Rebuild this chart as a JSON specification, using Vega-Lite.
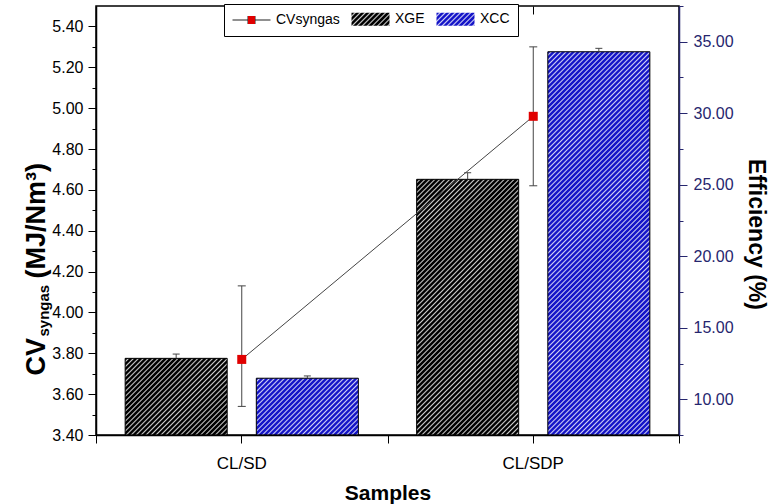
{
"$schema": "https://vega.github.io/schema/vega-lite/v6.json",
"width": 583, "height": 429,
"autosize": {"type": "none"},
"padding": {"left": 96, "top": 6, "right": 90, "bottom": 69},
"background": "white",
"config": {"font": "Liberation Sans", "view": {"stroke": "black", "strokeWidth": 1.5}, "axis": {"grid": false}},
"params": [
{"name": "hatch", "value": [{"offset":0,"color":"#fff0"},
{"offset":0.004,"color":"#fff0"},{"offset":0.007,"color":"#fffc"},{"offset":0.01,"color":"#fff0"},
{"offset":0.014,"color":"#fff0"},{"offset":0.017,"color":"#fffc"},{"offset":0.02,"color":"#fff0"},
{"offset":0.024,"color":"#fff0"},{"offset":0.027,"color":"#fffc"},{"offset":0.03,"color":"#fff0"},
{"offset":0.034,"color":"#fff0"},{"offset":0.037,"color":"#fffc"},{"offset":0.04,"color":"#fff0"},
{"offset":0.044,"color":"#fff0"},{"offset":0.047,"color":"#fffc"},{"offset":0.05,"color":"#fff0"},
{"offset":0.054,"color":"#fff0"},{"offset":0.057,"color":"#fffc"},{"offset":0.06,"color":"#fff0"},
{"offset":0.064,"color":"#fff0"},{"offset":0.067,"color":"#fffc"},{"offset":0.07,"color":"#fff0"},
{"offset":0.074,"color":"#fff0"},{"offset":0.077,"color":"#fffc"},{"offset":0.08,"color":"#fff0"},
{"offset":0.084,"color":"#fff0"},{"offset":0.087,"color":"#fffc"},{"offset":0.09,"color":"#fff0"},
{"offset":0.094,"color":"#fff0"},{"offset":0.097,"color":"#fffc"},{"offset":0.1,"color":"#fff0"},
{"offset":0.104,"color":"#fff0"},{"offset":0.107,"color":"#fffc"},{"offset":0.11,"color":"#fff0"},
{"offset":0.114,"color":"#fff0"},{"offset":0.117,"color":"#fffc"},{"offset":0.12,"color":"#fff0"},
{"offset":0.124,"color":"#fff0"},{"offset":0.127,"color":"#fffc"},{"offset":0.13,"color":"#fff0"},
{"offset":0.134,"color":"#fff0"},{"offset":0.137,"color":"#fffc"},{"offset":0.14,"color":"#fff0"},
{"offset":0.144,"color":"#fff0"},{"offset":0.147,"color":"#fffc"},{"offset":0.15,"color":"#fff0"},
{"offset":0.154,"color":"#fff0"},{"offset":0.157,"color":"#fffc"},{"offset":0.16,"color":"#fff0"},
{"offset":0.164,"color":"#fff0"},{"offset":0.167,"color":"#fffc"},{"offset":0.17,"color":"#fff0"},
{"offset":0.174,"color":"#fff0"},{"offset":0.177,"color":"#fffc"},{"offset":0.18,"color":"#fff0"},
{"offset":0.184,"color":"#fff0"},{"offset":0.187,"color":"#fffc"},{"offset":0.19,"color":"#fff0"},
{"offset":0.194,"color":"#fff0"},{"offset":0.197,"color":"#fffc"},{"offset":0.2,"color":"#fff0"},
{"offset":0.204,"color":"#fff0"},{"offset":0.207,"color":"#fffc"},{"offset":0.21,"color":"#fff0"},
{"offset":0.214,"color":"#fff0"},{"offset":0.217,"color":"#fffc"},{"offset":0.22,"color":"#fff0"},
{"offset":0.224,"color":"#fff0"},{"offset":0.227,"color":"#fffc"},{"offset":0.23,"color":"#fff0"},
{"offset":0.234,"color":"#fff0"},{"offset":0.237,"color":"#fffc"},{"offset":0.24,"color":"#fff0"},
{"offset":0.244,"color":"#fff0"},{"offset":0.247,"color":"#fffc"},{"offset":0.25,"color":"#fff0"},
{"offset":0.254,"color":"#fff0"},{"offset":0.257,"color":"#fffc"},{"offset":0.26,"color":"#fff0"},
{"offset":0.264,"color":"#fff0"},{"offset":0.267,"color":"#fffc"},{"offset":0.27,"color":"#fff0"},
{"offset":0.274,"color":"#fff0"},{"offset":0.277,"color":"#fffc"},{"offset":0.28,"color":"#fff0"},
{"offset":0.284,"color":"#fff0"},{"offset":0.287,"color":"#fffc"},{"offset":0.29,"color":"#fff0"},
{"offset":0.294,"color":"#fff0"},{"offset":0.297,"color":"#fffc"},{"offset":0.3,"color":"#fff0"},
{"offset":0.304,"color":"#fff0"},{"offset":0.307,"color":"#fffc"},{"offset":0.31,"color":"#fff0"},
{"offset":0.314,"color":"#fff0"},{"offset":0.317,"color":"#fffc"},{"offset":0.32,"color":"#fff0"},
{"offset":0.324,"color":"#fff0"},{"offset":0.327,"color":"#fffc"},{"offset":0.33,"color":"#fff0"},
{"offset":0.334,"color":"#fff0"},{"offset":0.337,"color":"#fffc"},{"offset":0.34,"color":"#fff0"},
{"offset":0.344,"color":"#fff0"},{"offset":0.347,"color":"#fffc"},{"offset":0.35,"color":"#fff0"},
{"offset":0.354,"color":"#fff0"},{"offset":0.357,"color":"#fffc"},{"offset":0.36,"color":"#fff0"},
{"offset":0.364,"color":"#fff0"},{"offset":0.367,"color":"#fffc"},{"offset":0.37,"color":"#fff0"},
{"offset":0.374,"color":"#fff0"},{"offset":0.377,"color":"#fffc"},{"offset":0.38,"color":"#fff0"},
{"offset":0.384,"color":"#fff0"},{"offset":0.387,"color":"#fffc"},{"offset":0.39,"color":"#fff0"},
{"offset":0.394,"color":"#fff0"},{"offset":0.397,"color":"#fffc"},{"offset":0.4,"color":"#fff0"},
{"offset":0.404,"color":"#fff0"},{"offset":0.407,"color":"#fffc"},{"offset":0.41,"color":"#fff0"},
{"offset":0.414,"color":"#fff0"},{"offset":0.417,"color":"#fffc"},{"offset":0.42,"color":"#fff0"},
{"offset":0.424,"color":"#fff0"},{"offset":0.427,"color":"#fffc"},{"offset":0.43,"color":"#fff0"},
{"offset":0.434,"color":"#fff0"},{"offset":0.437,"color":"#fffc"},{"offset":0.44,"color":"#fff0"},
{"offset":0.444,"color":"#fff0"},{"offset":0.447,"color":"#fffc"},{"offset":0.45,"color":"#fff0"},
{"offset":0.454,"color":"#fff0"},{"offset":0.457,"color":"#fffc"},{"offset":0.46,"color":"#fff0"},
{"offset":0.464,"color":"#fff0"},{"offset":0.467,"color":"#fffc"},{"offset":0.47,"color":"#fff0"},
{"offset":0.474,"color":"#fff0"},{"offset":0.477,"color":"#fffc"},{"offset":0.48,"color":"#fff0"},
{"offset":0.484,"color":"#fff0"},{"offset":0.487,"color":"#fffc"},{"offset":0.49,"color":"#fff0"},
{"offset":0.494,"color":"#fff0"},{"offset":0.497,"color":"#fffc"},{"offset":0.5,"color":"#fff0"},
{"offset":0.504,"color":"#fff0"},{"offset":0.507,"color":"#fffc"},{"offset":0.51,"color":"#fff0"},
{"offset":0.514,"color":"#fff0"},{"offset":0.517,"color":"#fffc"},{"offset":0.52,"color":"#fff0"},
{"offset":0.524,"color":"#fff0"},{"offset":0.527,"color":"#fffc"},{"offset":0.53,"color":"#fff0"},
{"offset":0.534,"color":"#fff0"},{"offset":0.537,"color":"#fffc"},{"offset":0.54,"color":"#fff0"},
{"offset":0.544,"color":"#fff0"},{"offset":0.547,"color":"#fffc"},{"offset":0.55,"color":"#fff0"},
{"offset":0.554,"color":"#fff0"},{"offset":0.557,"color":"#fffc"},{"offset":0.56,"color":"#fff0"},
{"offset":0.564,"color":"#fff0"},{"offset":0.567,"color":"#fffc"},{"offset":0.57,"color":"#fff0"},
{"offset":0.574,"color":"#fff0"},{"offset":0.577,"color":"#fffc"},{"offset":0.58,"color":"#fff0"},
{"offset":0.584,"color":"#fff0"},{"offset":0.587,"color":"#fffc"},{"offset":0.59,"color":"#fff0"},
{"offset":0.594,"color":"#fff0"},{"offset":0.597,"color":"#fffc"},{"offset":0.6,"color":"#fff0"},
{"offset":0.604,"color":"#fff0"},{"offset":0.607,"color":"#fffc"},{"offset":0.61,"color":"#fff0"},
{"offset":0.614,"color":"#fff0"},{"offset":0.617,"color":"#fffc"},{"offset":0.62,"color":"#fff0"},
{"offset":0.624,"color":"#fff0"},{"offset":0.627,"color":"#fffc"},{"offset":0.63,"color":"#fff0"},
{"offset":0.634,"color":"#fff0"},{"offset":0.637,"color":"#fffc"},{"offset":0.64,"color":"#fff0"},
{"offset":0.644,"color":"#fff0"},{"offset":0.647,"color":"#fffc"},{"offset":0.65,"color":"#fff0"},
{"offset":0.654,"color":"#fff0"},{"offset":0.657,"color":"#fffc"},{"offset":0.66,"color":"#fff0"},
{"offset":0.664,"color":"#fff0"},{"offset":0.667,"color":"#fffc"},{"offset":0.67,"color":"#fff0"},
{"offset":0.674,"color":"#fff0"},{"offset":0.677,"color":"#fffc"},{"offset":0.68,"color":"#fff0"},
{"offset":0.684,"color":"#fff0"},{"offset":0.687,"color":"#fffc"},{"offset":0.69,"color":"#fff0"},
{"offset":0.694,"color":"#fff0"},{"offset":0.697,"color":"#fffc"},{"offset":0.7,"color":"#fff0"},
{"offset":0.704,"color":"#fff0"},{"offset":0.707,"color":"#fffc"},{"offset":0.71,"color":"#fff0"},
{"offset":0.714,"color":"#fff0"},{"offset":0.717,"color":"#fffc"},{"offset":0.72,"color":"#fff0"},
{"offset":0.724,"color":"#fff0"},{"offset":0.727,"color":"#fffc"},{"offset":0.73,"color":"#fff0"},
{"offset":0.734,"color":"#fff0"},{"offset":0.737,"color":"#fffc"},{"offset":0.74,"color":"#fff0"},
{"offset":0.744,"color":"#fff0"},{"offset":0.747,"color":"#fffc"},{"offset":0.75,"color":"#fff0"},
{"offset":0.754,"color":"#fff0"},{"offset":0.757,"color":"#fffc"},{"offset":0.76,"color":"#fff0"},
{"offset":0.764,"color":"#fff0"},{"offset":0.767,"color":"#fffc"},{"offset":0.77,"color":"#fff0"},
{"offset":0.774,"color":"#fff0"},{"offset":0.777,"color":"#fffc"},{"offset":0.78,"color":"#fff0"},
{"offset":0.784,"color":"#fff0"},{"offset":0.787,"color":"#fffc"},{"offset":0.79,"color":"#fff0"},
{"offset":0.794,"color":"#fff0"},{"offset":0.797,"color":"#fffc"},{"offset":0.8,"color":"#fff0"},
{"offset":0.804,"color":"#fff0"},{"offset":0.807,"color":"#fffc"},{"offset":0.81,"color":"#fff0"},
{"offset":0.814,"color":"#fff0"},{"offset":0.817,"color":"#fffc"},{"offset":0.82,"color":"#fff0"},
{"offset":0.824,"color":"#fff0"},{"offset":0.827,"color":"#fffc"},{"offset":0.83,"color":"#fff0"},
{"offset":0.834,"color":"#fff0"},{"offset":0.837,"color":"#fffc"},{"offset":0.84,"color":"#fff0"},
{"offset":0.844,"color":"#fff0"},{"offset":0.847,"color":"#fffc"},{"offset":0.85,"color":"#fff0"},
{"offset":0.854,"color":"#fff0"},{"offset":0.857,"color":"#fffc"},{"offset":0.86,"color":"#fff0"},
{"offset":0.864,"color":"#fff0"},{"offset":0.867,"color":"#fffc"},{"offset":0.87,"color":"#fff0"},
{"offset":0.874,"color":"#fff0"},{"offset":0.877,"color":"#fffc"},{"offset":0.88,"color":"#fff0"},
{"offset":0.884,"color":"#fff0"},{"offset":0.887,"color":"#fffc"},{"offset":0.89,"color":"#fff0"},
{"offset":0.894,"color":"#fff0"},{"offset":0.897,"color":"#fffc"},{"offset":0.9,"color":"#fff0"},
{"offset":0.904,"color":"#fff0"},{"offset":0.907,"color":"#fffc"},{"offset":0.91,"color":"#fff0"},
{"offset":0.914,"color":"#fff0"},{"offset":0.917,"color":"#fffc"},{"offset":0.92,"color":"#fff0"},
{"offset":0.924,"color":"#fff0"},{"offset":0.927,"color":"#fffc"},{"offset":0.93,"color":"#fff0"},
{"offset":0.934,"color":"#fff0"},{"offset":0.937,"color":"#fffc"},{"offset":0.94,"color":"#fff0"},
{"offset":0.944,"color":"#fff0"},{"offset":0.947,"color":"#fffc"},{"offset":0.95,"color":"#fff0"},
{"offset":0.954,"color":"#fff0"},{"offset":0.957,"color":"#fffc"},{"offset":0.96,"color":"#fff0"},
{"offset":0.964,"color":"#fff0"},{"offset":0.967,"color":"#fffc"},{"offset":0.97,"color":"#fff0"},
{"offset":0.974,"color":"#fff0"},{"offset":0.977,"color":"#fffc"},{"offset":0.98,"color":"#fff0"},
{"offset":0.984,"color":"#fff0"},{"offset":0.987,"color":"#fffc"},{"offset":0.99,"color":"#fff0"},
{"offset":0.994,"color":"#fff0"},{"offset":0.997,"color":"#fffc"},{"offset":1,"color":"#fff0"}]},
{"name": "hsK", "value": [{"offset":0,"color":"#000"},
{"offset":0.04,"color":"#000"},{"offset":0.07,"color":"#ccc"},{"offset":0.1,"color":"#000"},
{"offset":0.14,"color":"#000"},{"offset":0.17,"color":"#ccc"},{"offset":0.2,"color":"#000"},
{"offset":0.24,"color":"#000"},{"offset":0.27,"color":"#ccc"},{"offset":0.3,"color":"#000"},
{"offset":0.34,"color":"#000"},{"offset":0.37,"color":"#ccc"},{"offset":0.4,"color":"#000"},
{"offset":0.44,"color":"#000"},{"offset":0.47,"color":"#ccc"},{"offset":0.5,"color":"#000"},
{"offset":0.54,"color":"#000"},{"offset":0.57,"color":"#ccc"},{"offset":0.6,"color":"#000"},
{"offset":0.64,"color":"#000"},{"offset":0.67,"color":"#ccc"},{"offset":0.7,"color":"#000"},
{"offset":0.74,"color":"#000"},{"offset":0.77,"color":"#ccc"},{"offset":0.8,"color":"#000"},
{"offset":0.84,"color":"#000"},{"offset":0.87,"color":"#ccc"},{"offset":0.9,"color":"#000"},
{"offset":0.94,"color":"#000"},{"offset":0.97,"color":"#ccc"},{"offset":1,"color":"#000"}]},
{"name": "hsB", "value": [{"offset":0,"color":"#1414c8"},
{"offset":0.04,"color":"#1414c8"},{"offset":0.07,"color":"#d0d0f4"},{"offset":0.1,"color":"#1414c8"},
{"offset":0.14,"color":"#1414c8"},{"offset":0.17,"color":"#d0d0f4"},{"offset":0.2,"color":"#1414c8"},
{"offset":0.24,"color":"#1414c8"},{"offset":0.27,"color":"#d0d0f4"},{"offset":0.3,"color":"#1414c8"},
{"offset":0.34,"color":"#1414c8"},{"offset":0.37,"color":"#d0d0f4"},{"offset":0.4,"color":"#1414c8"},
{"offset":0.44,"color":"#1414c8"},{"offset":0.47,"color":"#d0d0f4"},{"offset":0.5,"color":"#1414c8"},
{"offset":0.54,"color":"#1414c8"},{"offset":0.57,"color":"#d0d0f4"},{"offset":0.6,"color":"#1414c8"},
{"offset":0.64,"color":"#1414c8"},{"offset":0.67,"color":"#d0d0f4"},{"offset":0.7,"color":"#1414c8"},
{"offset":0.74,"color":"#1414c8"},{"offset":0.77,"color":"#d0d0f4"},{"offset":0.8,"color":"#1414c8"},
{"offset":0.84,"color":"#1414c8"},{"offset":0.87,"color":"#d0d0f4"},{"offset":0.9,"color":"#1414c8"},
{"offset":0.94,"color":"#1414c8"},{"offset":0.97,"color":"#d0d0f4"},{"offset":1,"color":"#1414c8"}]}
],
"datasets": {
"bars": [
{"sample":"CL/SD","series":"XGE","eff":12.86,"hi":13.16},
{"sample":"CL/SD","series":"XCC","eff":11.47,"hi":11.63},
{"sample":"CL/SDP","series":"XGE","eff":25.38,"hi":25.84},
{"sample":"CL/SDP","series":"XCC","eff":34.3,"hi":34.54}
],
"cv": [
{"sample":"CL/SD","series":"CVsyngas","cv":3.77,"lo":3.54,"hi":4.13},
{"sample":"CL/SDP","series":"CVsyngas","cv":4.96,"lo":4.62,"hi":5.3}
]
},
"layer": [
{
"data": {"name": "bars"},
"encoding": {
"x": {"field": "sample", "type": "nominal", "scale": {"type": "band", "domain": ["CL/SD","CL/SDP"], "paddingInner": 0, "paddingOuter": 0}, "axis": null},
"xOffset": {"field": "series", "type": "nominal", "scale": {"domain": ["XGE","XCC"], "paddingInner": 0.2222, "paddingOuter": 0.2222}},
"y": {"field": "eff", "type": "quantitative", "stack": null, "scale": {"domain": [7.5, 37.5], "zero": false, "nice": false}, "axis": null}
},
"layer": [
{"transform": [{"filter": "datum.series === 'XGE'"}],
"mark": {"type": "bar", "opacity": 1, "color": "#000000"},
"encoding": {
"x": {"field": "sample", "type": "nominal", "scale": {"type": "band", "domain": ["CL/SD","CL/SDP"], "paddingInner": 0, "paddingOuter": 0},
"axis": {"orient": "bottom", "title": "Samples", "labelAngle": 0, "labelFontSize": 17, "labelColor": "black", "labelPadding": 12, "tickSize": 8, "tickColor": "black", "tickWidth": 1, "domainColor": "black", "domainWidth": 1.5, "titleFontSize": 21, "titleFontWeight": "bold", "titleColor": "black", "titleX": 291.5, "titleY": 64, "titleAlign": "center", "titleBaseline": "alphabetic", "zindex": 1}},
"y": {"field": "eff", "type": "quantitative", "stack": null, "scale": {"domain": [7.5, 37.5], "zero": false, "nice": false},
"axis": {"orient": "right", "values": [10,15,20,25,30,35], "format": ".2f", "labelFontSize": 16, "labelColor": "#26266e", "labelPadding": 6, "tickSize": 8, "tickColor": "#26266e", "tickWidth": 1, "domainColor": "#26266e", "domainWidth": 1.5, "title": "Efficiency (%)", "titleFontSize": 23, "titleFontWeight": "bold", "titleColor": "black", "titleAngle": 90, "titleX": 69, "titleY": 228, "titleAlign": "center", "titleBaseline": "alphabetic", "zindex": 1}}
}},
{"transform": [{"filter": "datum.series === 'XCC'"}],
"mark": {"type": "bar", "opacity": 1, "color": "#1414c8"}},
{"transform": [{"filter": "datum.sample === 'CL/SD' && datum.series === 'XGE'"}],
"mark": {"type": "bar", "opacity": 1, "stroke": "black", "strokeWidth": 1, "color": {"expr": "{gradient: 'linear', x1: 0, y1: 0, x2: 3.103, y2: 2.330, stops: hatch}"}}},
{"transform": [{"filter": "datum.sample === 'CL/SD' && datum.series === 'XCC'"}],
"mark": {"type": "bar", "opacity": 1, "stroke": "black", "strokeWidth": 1, "color": {"expr": "{gradient: 'linear', x1: 0, y1: 0, x2: 3.704, y2: 2.063, stops: hatch}"}}},
{"transform": [{"filter": "datum.sample === 'CL/SDP' && datum.series === 'XGE'"}],
"mark": {"type": "bar", "opacity": 1, "stroke": "black", "strokeWidth": 1, "color": {"expr": "{gradient: 'linear', x1: 0, y1: 0, x2: 0.6662, y2: 1.6701, stops: hatch}"}}},
{"transform": [{"filter": "datum.sample === 'CL/SDP' && datum.series === 'XCC'"}],
"mark": {"type": "bar", "opacity": 1, "stroke": "black", "strokeWidth": 1, "color": {"expr": "{gradient: 'linear', x1: 0, y1: 0, x2: 0.3211, y2: 1.2063, stops: hatch}"}}},
{"mark": {"type": "rule", "color": "#444", "strokeWidth": 1, "opacity": 1},
"encoding": {"y2": {"field": "hi"}}},
{"mark": {"type": "tick", "orient": "horizontal", "size": 7, "thickness": 1, "color": "#444", "opacity": 1},
"encoding": {
"y": {"field": "hi", "type": "quantitative", "scale": {"domain": [7.5, 37.5], "zero": false, "nice": false},
"axis": {"orient": "right", "values": [7.5,12.5,17.5,22.5,27.5,32.5,37.5], "labels": false, "domain": false, "title": null, "tickSize": 4, "tickColor": "#26266e", "tickWidth": 1}}
}}
],
"resolve": {"axis": {"x": "independent", "y": "independent"}}
},
{
"data": {"name": "cv"},
"encoding": {
"x": {"field": "sample", "type": "nominal", "scale": {"type": "band", "domain": ["CL/SD","CL/SDP"], "paddingInner": 0, "paddingOuter": 0}, "axis": null},
"y": {"field": "cv", "type": "quantitative", "scale": {"domain": [3.4, 5.5], "zero": false, "nice": false}, "axis": null}
},
"layer": [
{"mark": {"type": "line", "color": "#444", "strokeWidth": 1},
"encoding": {
"y": {"field": "cv", "type": "quantitative", "scale": {"domain": [3.4, 5.5], "zero": false, "nice": false},
"axis": {"orient": "left", "values": [3.4,3.6,3.8,4.0,4.2,4.4,4.6,4.8,5.0,5.2,5.4], "format": ".2f", "labelFontSize": 16, "labelColor": "black", "labelPadding": 5, "tickSize": 8, "tickColor": "black", "tickWidth": 1, "domainColor": "black", "domainWidth": 1.5, "title": "CV", "titleFontSize": 27, "titleFontWeight": "bold", "titleColor": "black", "titleAngle": -90, "titleX": -52, "titleY": 369, "titleAlign": "left", "titleBaseline": "alphabetic", "zindex": 1}}
}},
{"mark": {"type": "rule", "color": "#444", "strokeWidth": 1},
"encoding": {
"y": {"field": "lo", "type": "quantitative", "scale": {"domain": [3.4, 5.5], "zero": false, "nice": false},
"axis": {"orient": "left", "labels": false, "ticks": false, "domain": false, "title": "syngas", "titleFontSize": 15, "titleFontWeight": "bold", "titleColor": "black", "titleAngle": -90, "titleX": -48, "titleY": 330, "titleAlign": "left", "titleBaseline": "alphabetic"}},
"y2": {"field": "hi"}
}},
{"mark": {"type": "tick", "orient": "horizontal", "size": 8, "thickness": 1, "color": "#444", "opacity": 1},
"encoding": {
"x": {"field": "sample", "type": "nominal", "scale": {"type": "band", "domain": ["CL/SD","CL/SDP"], "paddingInner": 0, "paddingOuter": 0},
"axis": {"orient": "bottom", "tickBand": "extent", "labels": false, "domain": false, "title": null, "tickSize": 8, "tickColor": "black", "tickWidth": 1}},
"y": {"field": "lo", "type": "quantitative", "scale": {"domain": [3.4, 5.5], "zero": false, "nice": false},
"axis": {"orient": "left", "values": [3.5,3.7,3.9,4.1,4.3,4.5,4.7,4.9,5.1,5.3], "labels": false, "domain": false, "title": null, "tickSize": 4, "tickColor": "black", "tickWidth": 1}}
}},
{"mark": {"type": "tick", "orient": "horizontal", "size": 8, "thickness": 1, "color": "#444", "opacity": 1},
"encoding": {
"x": {"field": "sample", "type": "nominal", "scale": {"type": "band", "domain": ["CL/SD","CL/SDP"], "paddingInner": 0, "paddingOuter": 0},
"axis": {"orient": "top", "labels": false, "domain": false, "title": null, "tickSize": -8, "tickColor": "black", "tickWidth": 1}},
"y": {"field": "hi", "type": "quantitative", "scale": {"domain": [3.4, 5.5], "zero": false, "nice": false},
"axis": {"orient": "left", "labels": false, "ticks": false, "domain": false, "title": "(MJ/Nm³)", "titleFontSize": 27, "titleFontWeight": "bold", "titleColor": "black", "titleAngle": -90, "titleX": -52, "titleY": 272, "titleAlign": "left", "titleBaseline": "alphabetic"}}
}},
{"mark": {"type": "point", "shape": "square", "filled": true, "size": 81, "opacity": 1, "color": "#e00000"}},
{"mark": {"type": "point", "filled": true, "opacity": 0, "size": 169},
"encoding": {
"color": {"field": "series", "type": "nominal",
"scale": {"domain": ["CVsyngas","XGE","XCC"], "range": [{"expr": "{gradient: 'linear', x1: 0, y1: 0, x2: 1, y2: 0, stops: [{offset: 0, color: '#222'}, {offset: 0.395, color: '#222'}, {offset: 0.395, color: '#e00000'}, {offset: 0.605, color: '#e00000'}, {offset: 0.605, color: '#222'}, {offset: 1, color: '#222'}]}"}, {"expr": "{gradient: 'linear', x1: 0, y1: 0, x2: 1.2015, y2: 0.411, stops: hsK}"}, {"expr": "{gradient: 'linear', x1: 0, y1: 0, x2: 1.2015, y2: 0.411, stops: hsB}"}]},
"legend": {"orient": "none", "legendX": 128, "legendY": -2, "direction": "horizontal", "title": null, "padding": 8, "strokeColor": "black", "fillColor": "white", "labelFont": "Liberation Sans", "labelFontSize": 14, "labelColor": "black", "symbolSize": 169, "labelOffset": 30, "columnPadding": 9, "symbolStrokeColor": "black", "symbolStrokeWidth": 1, "symbolOpacity": 1, "zindex": 2}},
"shape": {"field": "series", "type": "nominal",
"scale": {"domain": ["CVsyngas","XGE","XCC"], "range": ["M-1,-0.08H1.308V0.08H-1ZM2.538,-0.08H4.846V0.08H2.538ZM1.308,-0.615H2.538V0.615H1.308Z", "M-1,-1H4.846V1H-1Z", "M-1,-1H4.846V1H-1Z"]},
"legend": {"orient": "none", "legendX": 128, "legendY": -2, "direction": "horizontal", "title": null, "padding": 8, "strokeColor": "black", "fillColor": "white", "labelFont": "Liberation Sans", "labelFontSize": 14, "labelColor": "black", "symbolSize": 169, "labelOffset": 30, "columnPadding": 9, "symbolStrokeColor": "black", "symbolStrokeWidth": 1, "symbolOpacity": 1, "zindex": 2}}
}}
],
"resolve": {"axis": {"x": "independent", "y": "independent"}}
}
],
"resolve": {"scale": {"y": "independent"}, "axis": {"x": "independent", "y": "independent"}}
}
